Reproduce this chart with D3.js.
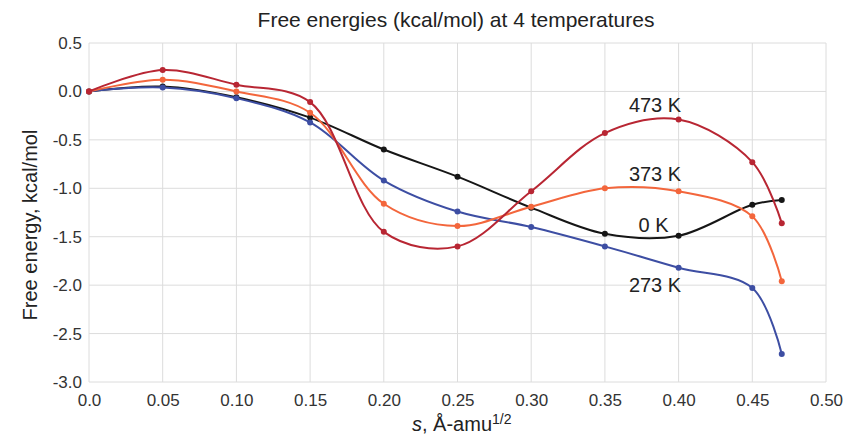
<!DOCTYPE html>
<html>
<head>
<meta charset="utf-8">
<script src="https://cdn.jsdelivr.net/npm/d3@7"></script>
<style>
  body { margin: 0; background: #fff; }
  svg { font-family: "Liberation Sans", Arial, sans-serif; }
</style>
</head>
<body>
<svg id="chart" width="846" height="435"></svg>
<script>
// data
const sValues = [0, 0.05, 0.10, 0.15, 0.20, 0.25, 0.30, 0.35, 0.40, 0.45, 0.47];
const energy0K   = [0, 0.05, -0.06, -0.27, -0.60, -0.88, -1.20, -1.47, -1.49, -1.17, -1.12];
const energy273K = [0, 0.04, -0.07, -0.32, -0.92, -1.24, -1.40, -1.60, -1.82, -2.03, -2.71];
const energy373K = [0, 0.12, 0.00, -0.22, -1.16, -1.39, -1.19, -1.00, -1.03, -1.29, -1.96];
const energy473K = [0, 0.22, 0.07, -0.11, -1.45, -1.60, -1.03, -0.43, -0.29, -0.73, -1.36];
const seriesNames = ["0 K", "273 K", "373 K", "473 K"];
const xTicks = [0, 0.05, 0.10, 0.15, 0.20, 0.25, 0.30, 0.35, 0.40, 0.45, 0.50];
const yTicks = [0.5, 0, -0.5, -1.0, -1.5, -2.0, -2.5, -3.0];
// label anchor points, in data units
const labelX = [0.383, 0.384, 0.384, 0.384];
const labelY = [-1.45, -2.07, -0.92, -0.21];

const colors = ["#161616", "#3d4ea3", "#f3663c", "#b82633"];
const series = [energy0K, energy273K, energy373K, energy473K];

const svg = d3.select("#chart");

const margin = { top: 43, right: 20, bottom: 53, left: 89 };
const x = d3.scaleLinear().domain([0, 0.5]).range([margin.left, 826]);
const y = d3.scaleLinear().domain([-3, 0.5]).range([382, margin.top]);

// grid
svg.append("g")
  .selectAll("line")
  .data(xTicks)
  .join("line")
  .attr("x1", d => x(d)).attr("x2", d => x(d))
  .attr("y1", y(0.5)).attr("y2", y(-3))
  .attr("stroke", "#dcdcdc").attr("stroke-width", 1);

svg.append("g")
  .selectAll("line")
  .data(yTicks)
  .join("line")
  .attr("x1", x(0)).attr("x2", x(0.5))
  .attr("y1", d => y(d)).attr("y2", d => y(d))
  .attr("stroke", "#dcdcdc").attr("stroke-width", 1);

// axes (tick labels only), plain hyphen for negatives like the original
const xAxis = svg.append("g")
  .attr("transform", `translate(0,${y(-3)})`)
  .call(d3.axisBottom(x).tickValues(xTicks).tickSize(0).tickPadding(12)
    .tickFormat(d => d === 0 ? "0.0" : d.toFixed(2)));
const yAxis = svg.append("g")
  .attr("transform", `translate(${x(0)},0)`)
  .call(d3.axisLeft(y).tickValues(yTicks).tickSize(0).tickPadding(7)
    .tickFormat(d => d.toFixed(1)));
[xAxis, yAxis].forEach(a => {
  a.select(".domain").remove();
  a.selectAll("text")
    .style("font-family", "'Liberation Sans', Arial, sans-serif")
    .style("font-size", "17px")
    .attr("fill", "#333");
});

// lines
const line = d3.line()
  .x((d, i) => x(sValues[i]))
  .y(d => y(d))
  .curve(d3.curveCatmullRom);

series.forEach((vals, k) => {
  svg.append("path")
    .datum(vals)
    .attr("fill", "none")
    .attr("stroke", colors[k])
    .attr("stroke-width", 2)
    .attr("d", line);

  svg.append("g")
    .selectAll("circle")
    .data(vals)
    .join("circle")
    .attr("cx", (d, i) => x(sValues[i]))
    .attr("cy", d => y(d))
    .attr("r", 3)
    .attr("fill", colors[k]);
});

// series labels
seriesNames.forEach((name, k) => {
  svg.append("text")
    .attr("x", x(labelX[k]))
    .attr("y", y(labelY[k]))
    .attr("text-anchor", "middle")
    .style("font-size", "20px")
    .attr("fill", "#222")
    .text(name);
});

// title
svg.append("text")
  .attr("x", 456)
  .attr("y", 27)
  .attr("text-anchor", "middle")
  .style("font-size", "21px")
  .attr("fill", "#222")
  .text("Free energies (kcal/mol) at 4 temperatures");

// y label
svg.append("text")
  .attr("transform", `translate(37,225) rotate(-90)`)
  .attr("text-anchor", "middle")
  .style("font-size", "20px")
  .attr("fill", "#222")
  .text("Free energy, kcal/mol");

// x label
const xl = svg.append("text")
  .attr("x", 412)
  .attr("y", 431)
  .style("font-size", "20px")
  .attr("fill", "#222");
xl.append("tspan").style("font-style", "italic").text("s");
xl.append("tspan").text(", Å-amu");
xl.append("tspan").attr("dy", -7).style("font-size", "14px").text("1/2");
</script>
</body>
</html>
